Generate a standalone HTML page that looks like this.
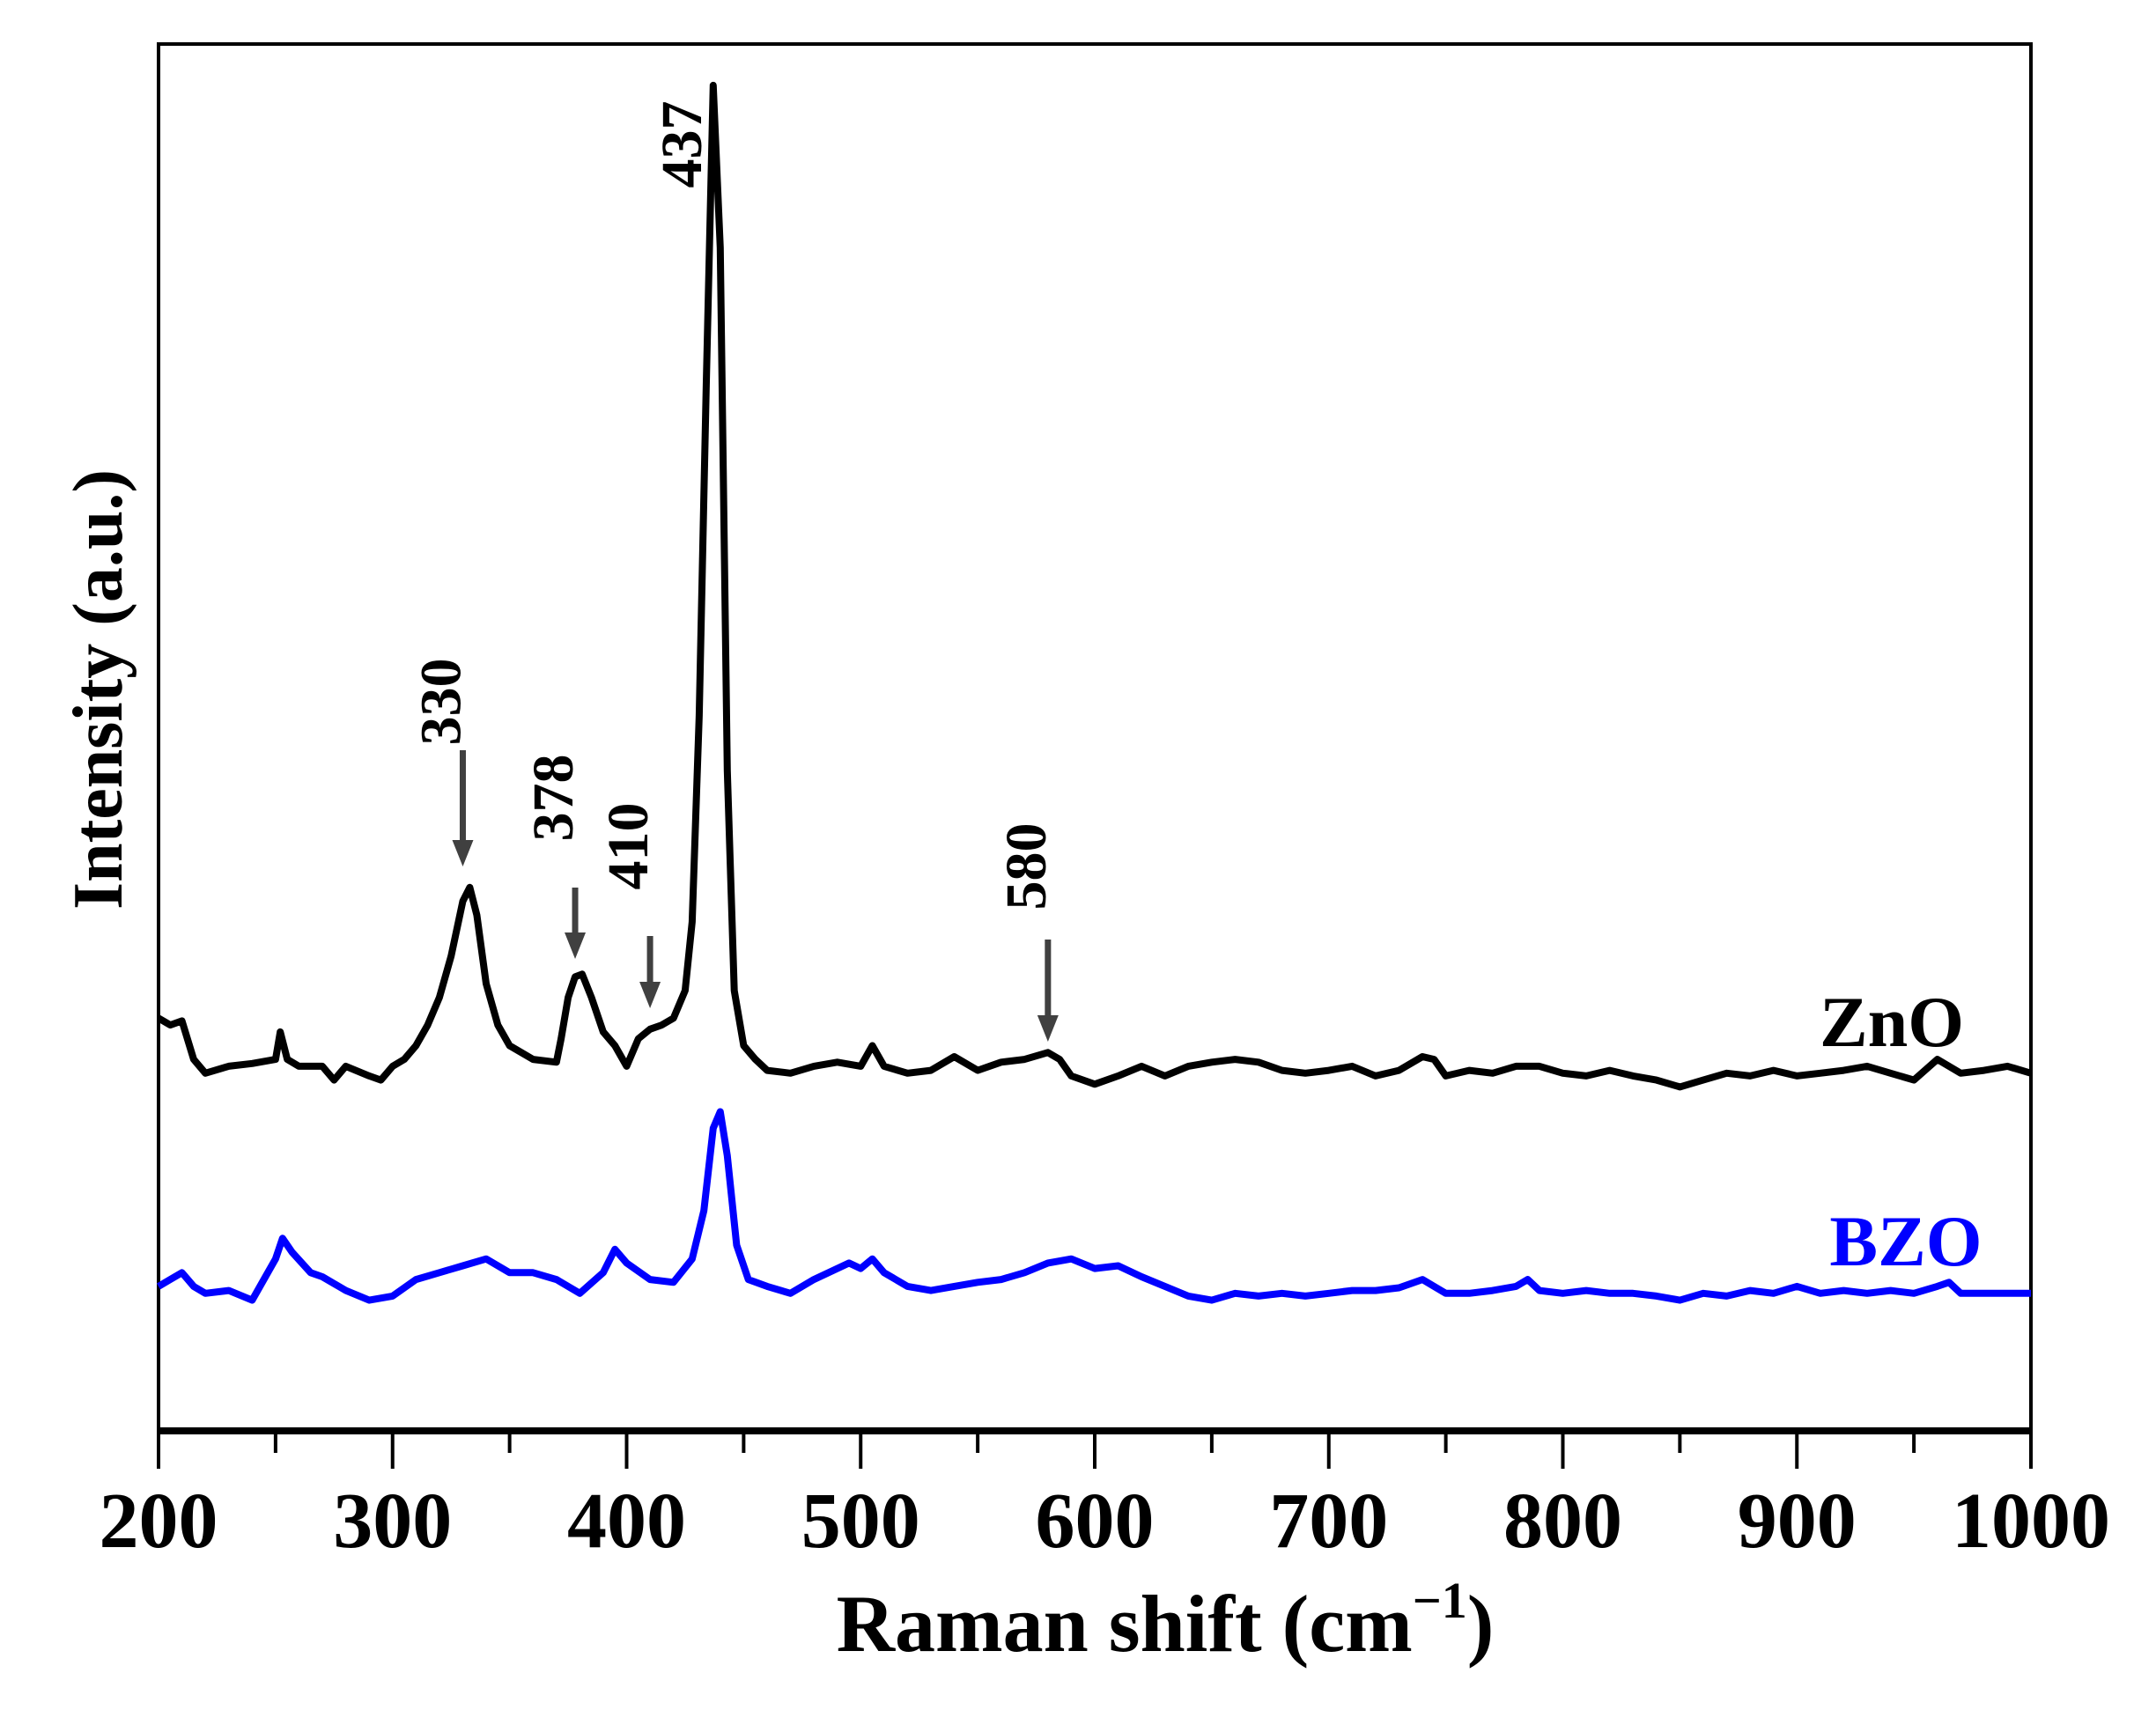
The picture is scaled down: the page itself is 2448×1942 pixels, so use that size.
<!DOCTYPE html>
<html><head><meta charset="utf-8"><style>html,body{margin:0;padding:0;background:#fff}svg{display:block}text{font-family:"Liberation Serif",serif;font-weight:bold}</style></head>
<body>
<svg id="chart" width="2448" height="1942" viewBox="0 0 2448 1942" xmlns="http://www.w3.org/2000/svg">
<rect x="180" y="50" width="2126" height="1575" fill="none" stroke="#000" stroke-width="4"/>
<line x1="180" y1="1625" x2="2306" y2="1625" stroke="#000" stroke-width="8"/>
<g id="ticks"></g>
<g id="series"></g>
<g id="ann"></g>
<text x="1323" y="1875" font-size="92" text-anchor="middle">Raman shift (cm<tspan font-size="58" dy="-38">−1</tspan><tspan dy="38">)</tspan></text>
<text transform="translate(138,783) rotate(-90)" font-size="80" text-anchor="middle">Intensity (a.u.)</text>
<text x="2148" y="1188" font-size="82" text-anchor="middle" fill="#000">ZnO</text>
<text x="2164" y="1437" font-size="82" text-anchor="middle" fill="#0000ff">BZO</text>
</svg>
<script>
const xTicks=[200,300,400,500,600,700,800,900,1000];
const znoX=[200,205,210,215,220,230,240,250,252,255,260,270,275,280,290,295,300,305,310,315,320,325,330,333,336,340,345,350,360,370,372,375,378,381,385,390,395,400,405,410,415,420,425,428,431,434,437,440,443,446,450,455,460,470,480,490,500,505,510,520,530,540,550,560,570,580,585,590,600,610,620,630,640,650,660,670,680,690,700,710,720,730,740,745,750,760,770,780,790,800,810,820,830,840,850,860,870,880,890,900,910,920,930,940,950,960,970,980,990,1000];
const znoY=[300,295,298,270,260,265,267,270,290,270,265,265,255,265,258,255,265,270,280,295,315,345,385,395,375,325,295,280,270,268,285,315,330,332,315,290,280,265,285,292,295,300,320,370,520,760,978,860,480,320,280,270,262,260,265,268,265,280,265,260,262,272,262,268,270,275,270,258,252,258,265,258,265,268,270,268,262,260,262,265,258,262,272,270,258,262,260,265,265,260,258,262,258,255,250,255,260,258,262,258,260,262,265,260,255,270,260,262,265,260];
const bzoX=[200,205,210,215,220,230,240,245,250,253,257,265,270,280,290,300,310,320,330,340,350,360,370,380,390,395,400,410,420,428,433,437,440,443,447,452,460,470,480,490,495,500,505,510,520,530,540,550,560,570,580,590,600,610,620,630,640,650,660,670,680,690,700,710,720,730,740,745,750,760,770,780,785,790,800,810,820,830,840,850,860,870,880,890,900,910,920,930,940,950,960,965,970,980,990,1000];
const bzoY=[105,110,115,105,100,102,95,110,125,140,130,115,112,102,95,98,110,115,120,125,115,115,110,100,115,132,122,110,108,125,160,220,232,200,135,110,105,100,110,118,122,118,125,115,105,102,105,108,110,115,122,125,118,120,112,105,98,95,100,98,100,98,100,102,102,104,110,105,100,100,102,105,110,102,100,102,100,100,98,95,100,98,102,100,105,100,102,100,102,100,105,108,100,100,100,100];
const NS='http://www.w3.org/2000/svg';
const L=180,R=2306,B=1625,K=1.5625;
function xs(v){return L+(v-200)/800*(R-L);}
function ys(v){return B-v*K;}
const tg=document.getElementById('ticks');
for(let v=200;v<=1000;v+=50){
 const major=v%100===0;
 const t=document.createElementNS(NS,'line');
 t.setAttribute('x1',xs(v));t.setAttribute('x2',xs(v));
 t.setAttribute('y1',B);t.setAttribute('y2',B+(major?43:25));
 t.setAttribute('stroke','#000');t.setAttribute('stroke-width','4');
 
 
 tg.appendChild(t);
}
xTicks.forEach(v=>{
 const t=document.createElementNS(NS,'text');
 t.setAttribute('x',xs(v));t.setAttribute('y',1757);
 t.setAttribute('font-size','90');t.setAttribute('text-anchor','middle');
 t.textContent=v;
 
 
 tg.appendChild(t);
});
const sg=document.getElementById('series');
function line(xsArr,ysArr,color,name){
 const p=document.createElementNS(NS,'path');
 p.setAttribute('d',xsArr.map((x,i)=>(i?'L':'M')+xs(x).toFixed(1)+','+ys(ysArr[i]).toFixed(1)).join(''));
 p.setAttribute('fill','none');p.setAttribute('stroke',color);
 p.setAttribute('stroke-width','8');p.setAttribute('stroke-linejoin','round');
 
 
 sg.appendChild(p);
}
line(znoX,znoY,'#000','zno-line');
line(bzoX,bzoY,'#0000ff','bzo-line');
const ann=document.getElementById('ann');
const peaks=[330,378,410,437,580];
const arrowTop=[852,1008,1063,0,1067];
const arrowTip=[984,1089,1145,0,1183];
const labelY=[797,906,961,164,984];
peaks.forEach((p,i)=>{
 const x=xs(p);
 if(arrowTop[i]){
  const l=document.createElementNS(NS,'line');
  l.setAttribute('x1',x);l.setAttribute('x2',x);l.setAttribute('y1',arrowTop[i]);l.setAttribute('y2',arrowTip[i]-20);
  l.setAttribute('stroke','#404040');l.setAttribute('stroke-width','7');
  
  
  ann.appendChild(l);
  const h=document.createElementNS(NS,'polygon');
  h.setAttribute('points',`${x-12},${arrowTip[i]-30} ${x+12},${arrowTip[i]-30} ${x},${arrowTip[i]}`);
  h.setAttribute('fill','#404040');
  
  
  ann.appendChild(h);
 }
 const t=document.createElementNS(NS,'text');
 t.setAttribute('transform',`translate(${x-(i===3?14:3)},${labelY[i]}) rotate(-90)`);
 t.setAttribute('font-size','66');t.setAttribute('text-anchor','middle');
 t.textContent=p;
 
 
 ann.appendChild(t);
});
</script>
</body></html>
